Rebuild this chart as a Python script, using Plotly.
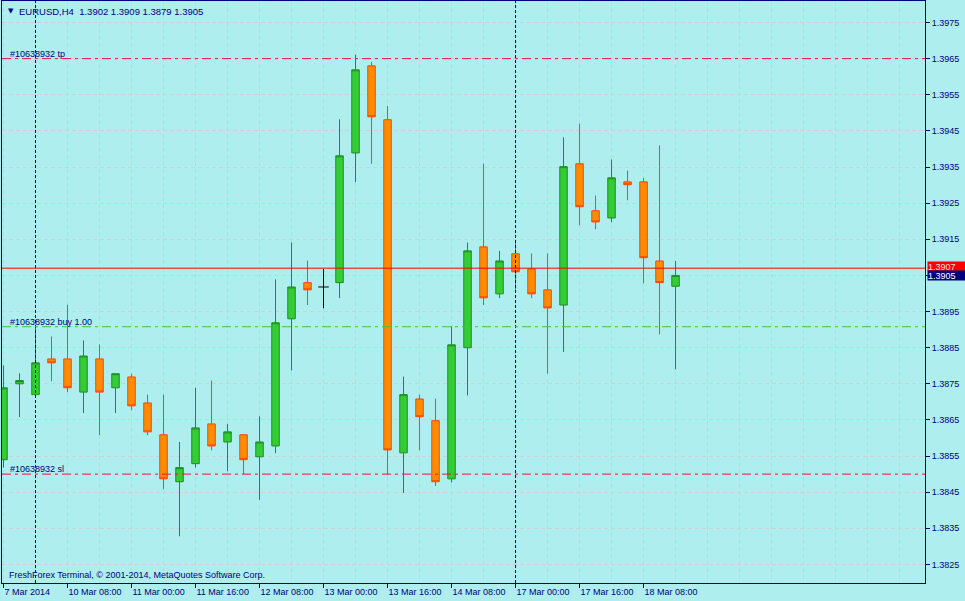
import plotly.graph_objects as go

# ---------------- data ----------------
symbol = "EURUSD"
timeframe = "H4"

opens = [1.38540, 1.38750, 1.38720, 1.38819, 1.38819, 1.38727, 1.38819, 1.38739, 1.38769, 1.38697,
         1.38609, 1.38479, 1.38529, 1.38639, 1.38589, 1.38609, 1.38548, 1.38578, 1.38930, 1.39030,
         1.39018, 1.39030, 1.39389, 1.39630, 1.39481, 1.38559, 1.38708, 1.38648, 1.38487, 1.38850,
         1.39129, 1.38999, 1.39110, 1.39068, 1.39010, 1.38968, 1.39359, 1.39229, 1.39209, 1.39309,
         1.39309, 1.39090, 1.39020]
highs = [1.38801, 1.38779, 1.38908, 1.38881, 1.38969, 1.38870, 1.38859, 1.38778, 1.38778, 1.38720,
         1.38720, 1.38589, 1.38739, 1.38759, 1.38639, 1.38609, 1.38660, 1.39039, 1.39141, 1.39091,
         1.39068, 1.39482, 1.39661, 1.39641, 1.39519, 1.38770, 1.38720, 1.38709, 1.38909, 1.39141,
         1.39359, 1.39118, 1.39141, 1.39111, 1.39111, 1.39432, 1.39470, 1.39271, 1.39371, 1.39340,
         1.39320, 1.39410, 1.39090]
lows = [1.38518, 1.38658, 1.38720, 1.38757, 1.38727, 1.38669, 1.38608, 1.38669, 1.38677, 1.38608,
        1.38458, 1.38328, 1.38518, 1.38566, 1.38508, 1.38499, 1.38429, 1.38558, 1.38787, 1.38968,
        1.38959, 1.38987, 1.39308, 1.39359, 1.38498, 1.38448, 1.38566, 1.38467, 1.38477, 1.38718,
        1.38968, 1.38987, 1.39010, 1.38987, 1.38778, 1.38838, 1.39189, 1.39178, 1.39197, 1.39258,
        1.39028, 1.38887, 1.38790]
closes = [1.38739, 1.38759, 1.38808, 1.38808, 1.38739, 1.38827, 1.38727, 1.38778, 1.38689, 1.38617,
          1.38487, 1.38518, 1.38628, 1.38578, 1.38617, 1.38540, 1.38589, 1.38919, 1.39018, 1.39010,
          1.39018, 1.39381, 1.39619, 1.39489, 1.38567, 1.38720, 1.38659, 1.38479, 1.38858, 1.39118,
          1.38988, 1.39090, 1.39060, 1.38999, 1.38960, 1.39351, 1.39240, 1.39198, 1.39320, 1.39301,
          1.39099, 1.39030, 1.39050]
bar_index = list(range(len(opens)))

tick_index = [0, 4, 8, 12, 16, 20, 24, 28, 32, 36, 40]
tick_labels = ["7 Mar 2014", "10 Mar 08:00", "11 Mar 00:00", "11 Mar 16:00", "12 Mar 08:00",
               "13 Mar 00:00", "13 Mar 16:00", "14 Mar 08:00", "17 Mar 00:00", "17 Mar 16:00",
               "18 Mar 08:00"]
grid_index = list(range(0, 58, 2))
separator_index = [2, 32]

price_ticks = [1.3825, 1.3835, 1.3845, 1.3855, 1.3865, 1.3875, 1.3885, 1.3895,
               1.3905, 1.3915, 1.3925, 1.3935, 1.3945, 1.3955, 1.3965, 1.3975]

order_levels = [1.3965, 1.38908, 1.3850]
order_labels = ["#10638932 tp", "#10638932 buy 1.00", "#10638932 sl"]
order_colors = ["#ee1144", "#32CD32", "#ee1144"]

ask_price = 1.3907
bid_price = closes[-1]

copyright_text = "FreshForex Terminal, \u00a9 2001-2014, MetaQuotes Software Corp."

# ---------------- styles ----------------
BG = "#AFEEEE"
NAVY = "#000080"
GRID = "#cfcfd8"
FONT = "Liberation Sans"

fig = go.Figure()

bull = [i for i in bar_index if closes[i] > opens[i]]
bear = [i for i in bar_index if closes[i] < opens[i]]
doji = [i for i in bar_index if closes[i] == opens[i]]

def sub(arr, idx):
    return [arr[i] for i in idx]

for idx, fill, edge in [(bull, "#32CD32", "#228B22"), (bear, "#FF8C00", "#FF4500")]:
    fig.add_trace(go.Candlestick(
        x=idx, open=sub(opens, idx), high=sub(highs, idx), low=sub(lows, idx), close=sub(closes, idx),
        increasing=dict(fillcolor=fill, line=dict(color=edge, width=1)),
        decreasing=dict(fillcolor=fill, line=dict(color=edge, width=1)),
        whiskerwidth=0, hoverinfo="skip", showlegend=False))

dx, dy = [], []
for i in doji:
    dx += [i, i, None, i - 0.33, i + 0.33, None]
    dy += [lows[i], highs[i], None, opens[i], opens[i], None]
fig.add_trace(go.Scatter(x=dx, y=dy, mode="lines", line=dict(color="black", width=1),
                         hoverinfo="skip", showlegend=False))

shapes = []
for k in separator_index:
    shapes.append(dict(type="line", xref="x", yref="paper", x0=k, x1=k, y0=0, y1=1,
                       line=dict(color=NAVY, width=1, dash="3px,2px"), layer="above"))
for lvl, col in zip(order_levels, order_colors):
    shapes.append(dict(type="line", xref="paper", yref="y", x0=0, x1=1, y0=lvl, y1=lvl,
                       line=dict(color=col, width=1, dash="9px,4px,3px,4px"), layer="above"))
shapes.append(dict(type="line", xref="paper", yref="y", x0=0, x1=1, y0=ask_price, y1=ask_price,
                   line=dict(color="#FF0000", width=1), layer="above"))

annotations = []
annotations.append(dict(xref="paper", yref="paper", x=0, y=1, xanchor="left", yanchor="middle",
                        xshift=4, yshift=-10, showarrow=False, text="\u25bc",
                        font=dict(family="DejaVu Sans", size=7, color=NAVY)))
title = "%s,%s  %.4f %.4f %.4f %.4f" % (symbol, timeframe, opens[-1], highs[-1], lows[-1], closes[-1])
annotations.append(dict(xref="paper", yref="paper", x=0, y=1, xanchor="left", yanchor="middle",
                        xshift=15, yshift=-10, showarrow=False, text=title,
                        font=dict(family=FONT, size=9.5, color=NAVY)))
for lvl, lab in zip(order_levels, order_labels):
    annotations.append(dict(xref="paper", yref="y", x=0, y=lvl, xanchor="left", yanchor="bottom",
                            xshift=6, yshift=-2, showarrow=False, text=lab,
                            font=dict(family=FONT, size=9, color=NAVY)))
annotations.append(dict(xref="paper", yref="paper", x=0, y=0, xanchor="left", yanchor="bottom",
                        xshift=5, yshift=1, showarrow=False, text=copyright_text,
                        font=dict(family=FONT, size=9, color=NAVY)))
annotations.append(dict(xref="paper", yref="y", x=1, y=ask_price, xanchor="left", yanchor="middle",
                        xshift=2, yshift=2, showarrow=False, text="%.4f" % ask_price,
                        bgcolor="#FF0000", width=38, height=9, borderpad=0, align="left",
                        font=dict(family=FONT, size=9, color="#ffe0e0")))
annotations.append(dict(xref="paper", yref="y", x=1, y=bid_price, xanchor="left", yanchor="middle",
                        xshift=2, yshift=0, showarrow=False, text="%.4f" % bid_price,
                        bgcolor=NAVY, width=38, height=9, borderpad=0, align="left",
                        font=dict(family=FONT, size=9, color="white")))

fig.update_layout(
    width=965, height=601,
    margin=dict(l=2, r=40, t=1, b=18, autoexpand=False),
    paper_bgcolor=BG, plot_bgcolor=BG,
    showlegend=False, boxgap=0.33,
    font=dict(family=FONT, size=9, color=NAVY),
    shapes=shapes, annotations=annotations,
    xaxis=dict(range=[-0.094, 57.59], rangeslider=dict(visible=False),
               showline=True, linecolor=NAVY, linewidth=1, mirror=True,
               tickmode="array", tickvals=tick_index, ticktext=tick_labels,
               ticks="outside", ticklen=4, tickcolor=NAVY, tickwidth=1,
               ticklabelposition="outside right",
               tickfont=dict(family=FONT, size=9, color=NAVY),
               showgrid=True, gridcolor=GRID, griddash="4px,3px", gridwidth=1,
               minor=dict(tickmode="array", tickvals=grid_index, showgrid=True,
                          gridcolor=GRID, griddash="4px,3px", gridwidth=1, ticks=""),
               zeroline=False, fixedrange=True, automargin=False),
    yaxis=dict(side="right", range=[1.381987, 1.398095],
               tickmode="array", tickvals=price_ticks, ticktext=["%.4f" % p for p in price_ticks],
               ticks="outside", ticklen=4, tickcolor=NAVY, tickwidth=1,
               tickfont=dict(family=FONT, size=9, color=NAVY),
               showline=True, linecolor=NAVY, linewidth=1, mirror=True,
               showgrid=True, gridcolor=GRID, griddash="4px,3px", gridwidth=1,
               zeroline=False, fixedrange=True, automargin=False),
)

fig.write_html("out.html", config={"displayModeBar": False},
               post_script="document.body.style.margin='0';document.body.style.overflow='hidden';")
